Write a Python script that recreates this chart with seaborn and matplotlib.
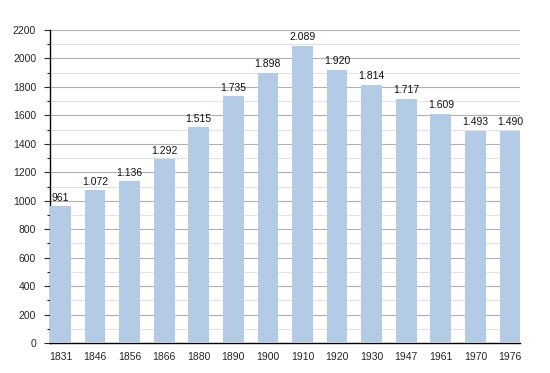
import matplotlib
matplotlib.use("Agg")
import matplotlib.pyplot as plt
from matplotlib import ticker
import pandas as pd
import seaborn as sns

years = ["1831", "1846", "1856", "1866", "1880", "1890", "1900",
         "1910", "1920", "1930", "1947", "1961", "1970", "1976"]
population = [961, 1072, 1136, 1292, 1515, 1735, 1898,
              2089, 1920, 1814, 1717, 1609, 1493, 1490]
bar_labels = ["961", "1.072", "1.136", "1.292", "1.515", "1.735", "1.898",
              "2.089", "1.920", "1.814", "1.717", "1.609", "1.493", "1.490"]

df = pd.DataFrame({"Year": years, "Population": population})

sns.set_style("white")
plt.rcParams['font.family'] = ['Liberation Sans', 'DejaVu Sans']

fig = plt.figure(figsize=(5.5, 3.73), dpi=100)
ax = fig.add_axes([0.091, 0.080, 0.855, 0.840])

sns.barplot(data=df, x="Year", y="Population", color="#b3cbe5", width=0.6,
            saturation=1, linewidth=0, edgecolor="none", ax=ax, zorder=3)

ax.set_ylim(0, 2200)
ax.set_xlim(-0.3, 13.3)
ax.yaxis.set_major_locator(ticker.MultipleLocator(200))
ax.yaxis.set_minor_locator(ticker.MultipleLocator(100))
ax.grid(axis="y", which="major", color="#b0b0b0", linewidth=0.8, zorder=0)
ax.grid(axis="y", which="minor", color="#e2e2e2", linewidth=0.8, zorder=0)
ax.set_axisbelow(True)

for side in ["top", "right"]:
    ax.spines[side].set_visible(False)
ax.spines["left"].set_color("black")
ax.spines["bottom"].set_color("black")
ax.spines["left"].set_linewidth(1.0)
ax.spines["bottom"].set_linewidth(1.0)

ax.tick_params(axis="y", which="major", left=True, length=4, width=0.8, labelsize=7.5, pad=6)
ax.tick_params(axis="y", which="minor", left=True, length=2, width=0.8)
ax.tick_params(axis="x", bottom=False, labelsize=7.5, pad=3)
ax.set_xlabel("")
ax.set_ylabel("")

for i, (v, lab) in enumerate(zip(population, bar_labels)):
    ax.text(i, v + 25, lab, ha="center", va="bottom", fontsize=7.5, color="#111111")

fig.savefig("out.png", dpi=100)
